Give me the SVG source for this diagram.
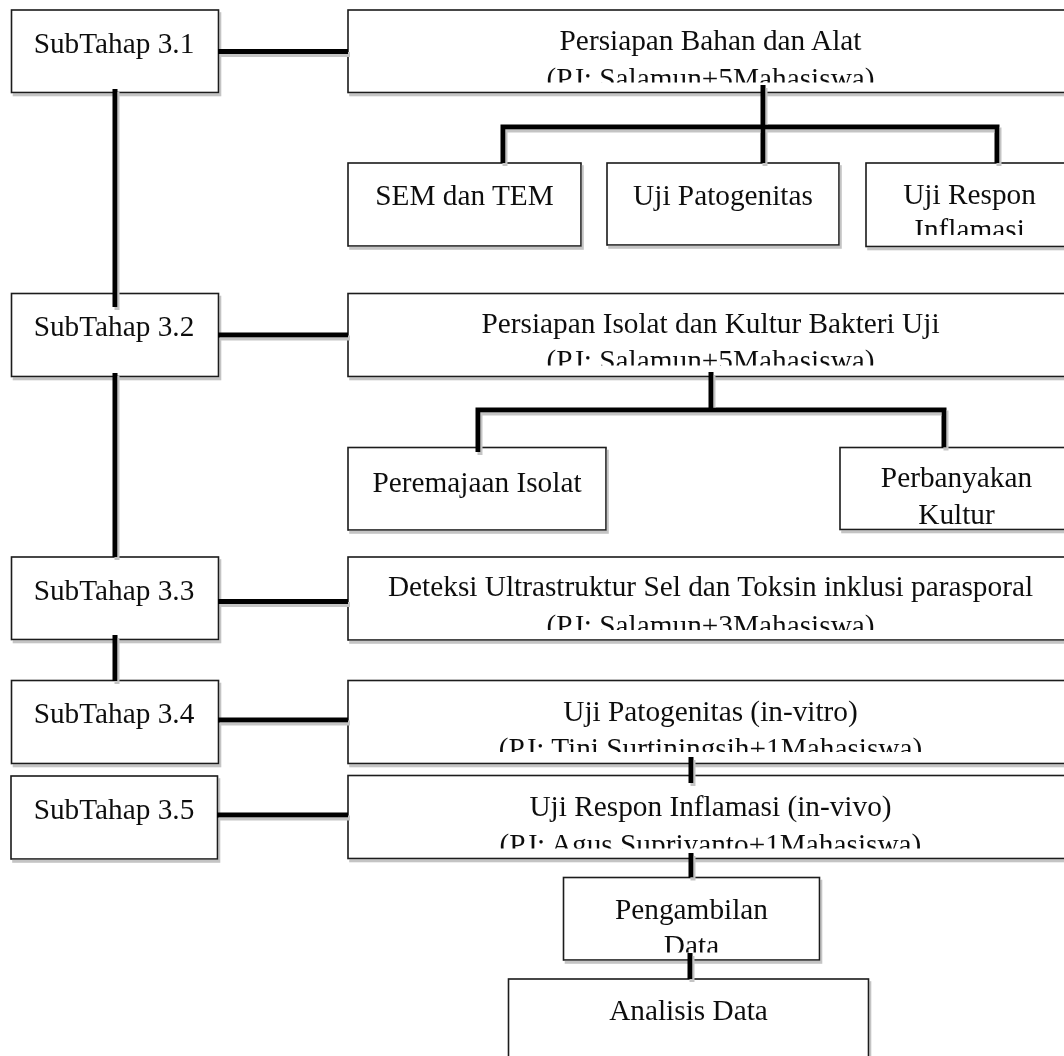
<svg xmlns="http://www.w3.org/2000/svg" width="1064" height="1056" viewBox="0 0 1064 1056">
<style>
.box{fill:#fff;stroke:#1a1a1a;stroke-width:1.6}
.t{font-family:"Liberation Serif","Times New Roman",serif;font-size:29.3px;fill:#111;text-anchor:middle}
.c{fill:none;stroke:#000;stroke-width:5;stroke-linejoin:miter;stroke-linecap:butt}
</style>
<defs>
<filter id="sh" filterUnits="userSpaceOnUse" x="0" y="0" width="1064" height="1056">
<feOffset in="SourceAlpha" dx="2" dy="3" result="o"/>
<feFlood flood-color="#c4c4c4"/>
<feComposite in2="o" operator="in"/>
<feMerge><feMergeNode/><feMergeNode in="SourceGraphic"/></feMerge>
</filter>
<clipPath id="cb1"><rect x="348" y="10" width="725" height="72.5"/></clipPath>
<clipPath id="cb2"><rect x="348" y="293.5" width="725" height="72"/></clipPath>
<clipPath id="cb3"><rect x="348" y="557" width="725" height="73"/></clipPath>
<clipPath id="cb4"><rect x="348" y="680.5" width="725" height="71.5"/></clipPath>
<clipPath id="cb5"><rect x="348" y="775.5" width="725" height="73"/></clipPath>
<clipPath id="cur"><rect x="866" y="163" width="207" height="72"/></clipPath>
<clipPath id="cpd"><rect x="563.5" y="877.5" width="256" height="75"/></clipPath>
</defs>

<g filter="url(#sh)">
<g id="st1"><rect class="box" x="11.5" y="10" width="207" height="82.5"/><text class="t" x="114" y="53">SubTahap 3.1</text></g>
<g id="st2"><rect class="box" x="11.5" y="293.5" width="207" height="83"/><text class="t" x="114" y="336">SubTahap 3.2</text></g>
<g id="st3"><rect class="box" x="11.5" y="557" width="207" height="82.5"/><text class="t" x="114" y="600">SubTahap 3.3</text></g>
<g id="st4"><rect class="box" x="11.5" y="680.5" width="207" height="83"/><text class="t" x="114" y="723">SubTahap 3.4</text></g>
<g id="st5"><rect class="box" x="11" y="776" width="206.5" height="83"/><text class="t" x="114" y="819">SubTahap 3.5</text></g>

<g id="big1"><rect class="box" x="348" y="10" width="725" height="82.5"/>
<g clip-path="url(#cb1)"><text class="t" x="710.5" y="50">Persiapan Bahan dan Alat</text><text class="t" x="710.5" y="87.5">(PJ: Salamun+5Mahasiswa)</text></g></g>
<g id="sem"><rect class="box" x="348" y="163" width="233" height="83"/><text class="t" x="464.5" y="205">SEM dan TEM</text></g>
<g id="ujipat"><rect class="box" x="607" y="163" width="232" height="82"/><text class="t" x="723" y="205">Uji Patogenitas</text></g>
<g id="ujiresp"><rect class="box" x="866" y="163" width="207" height="83.5"/>
<g clip-path="url(#cur)"><text class="t" x="969.5" y="204">Uji Respon</text><text class="t" x="969.5" y="238.5">Inflamasi</text></g></g>

<g id="big2"><rect class="box" x="348" y="293.5" width="725" height="83"/>
<g clip-path="url(#cb2)"><text class="t" x="710.5" y="333">Persiapan Isolat dan Kultur Bakteri Uji</text><text class="t" x="710.5" y="370">(PJ: Salamun+5Mahasiswa)</text></g></g>
<g id="peremajaan"><rect class="box" x="348" y="447.5" width="258" height="82.5"/><text class="t" x="477" y="492">Peremajaan Isolat</text></g>
<g id="perbanyakan"><rect class="box" x="840" y="447.5" width="233" height="82"/><text class="t" x="956.5" y="487">Perbanyakan</text><text class="t" x="956.5" y="524">Kultur</text></g>

<g id="big3"><rect class="box" x="348" y="557" width="725" height="83"/>
<g clip-path="url(#cb3)"><text class="t" x="710.5" y="596">Deteksi Ultrastruktur Sel dan Toksin inklusi parasporal</text><text class="t" x="710.5" y="635">(PJ: Salamun+3Mahasiswa)</text></g></g>

<g id="big4"><rect class="box" x="348" y="680.5" width="725" height="83"/>
<g clip-path="url(#cb4)"><text class="t" x="710.5" y="721">Uji Patogenitas (in-vitro)</text><text class="t" x="710.5" y="758">(PJ: Tini Surtiningsih+1Mahasiswa)</text></g></g>

<g id="big5"><rect class="box" x="348" y="775.5" width="725" height="83"/>
<g clip-path="url(#cb5)"><text class="t" x="710.5" y="816">Uji Respon Inflamasi (in-vivo)</text><text class="t" x="710.5" y="854">(PJ: Agus Supriyanto+1Mahasiswa)</text></g></g>

<g id="pengambilan"><rect class="box" x="563.5" y="877.5" width="256" height="82.5"/>
<g clip-path="url(#cpd)"><text class="t" x="691.5" y="919">Pengambilan</text><text class="t" x="691.5" y="955">Data</text></g></g>
<g id="analisis"><rect class="box" x="508.5" y="979" width="360" height="100"/><text class="t" x="688.5" y="1020">Analisis Data</text></g>
</g>

<g id="connectors" filter="url(#sh)">
<path class="c" d="M218 51.5H348"/>
<path class="c" d="M115 89V307"/>
<path class="c" d="M218 335H348"/>
<path class="c" d="M115 373V557"/>
<path class="c" d="M218 601.5H348"/>
<path class="c" d="M115 635V681"/>
<path class="c" d="M218 720H348"/>
<path class="c" d="M217 815H348"/>
<path class="c" d="M763 85V163"/>
<path class="c" d="M503 163V127H997V163"/>
<path class="c" d="M711 372V410"/>
<path class="c" d="M478 452V410H944V447.5"/>
<path class="c" d="M691 757V783"/>
<path class="c" d="M691 853V877.5"/>
<path class="c" d="M690 953V979"/>
</g>
</svg>
